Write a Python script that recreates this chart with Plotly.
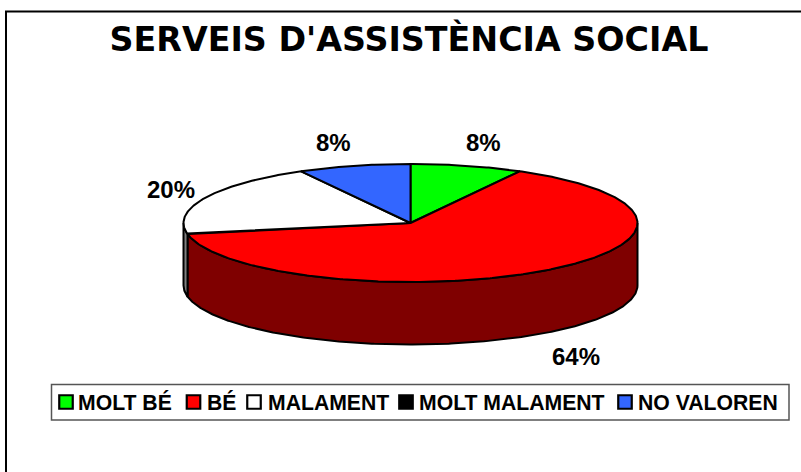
import math
import plotly.graph_objects as go

categories = ["MOLT BÉ", "BÉ", "MALAMENT", "MOLT MALAMENT", "NO VALOREN"]
values = [8, 64, 20, 0, 8]
top_colors = ["#00FF00", "#FF0000", "#FFFFFF", "#000000", "#3366FF"]
side_colors = ["#008000", "#7F0000", "#808080", "#000000", "#1A3380"]
title_text = "SERVEIS D'ASSISTÈNCIA SOCIAL"

CX, CY, RX, RY, DEPTH = 410.5, 223, 227, 59, 62.5
W, H = 801, 472
LINE = 2


def pt(angle, drop=0):
    """angle clockwise from 12 o'clock, radians; y is measured downward"""
    return CX + RX * math.sin(angle), CY - RY * math.cos(angle) + drop


def arc(a0, a1, drop=0):
    n = max(2, int(abs(a1 - a0) / 0.01))
    return [pt(a0 + (a1 - a0) * i / n, drop) for i in range(n + 1)]


fig = go.Figure()
total = sum(values)
edges = [0]
for v in values:
    edges.append(edges[-1] + v / total * 2 * math.pi)

# side walls: the visible front half runs from 90 deg to 270 deg
for i in range(len(values)):
    a0, a1 = max(edges[i], math.pi / 2), min(edges[i + 1], 3 * math.pi / 2)
    if a1 <= a0:
        continue
    poly = arc(a0, a1) + arc(a1, a0, DEPTH)
    xs, ys = zip(*poly)
    fig.add_trace(go.Scatter(x=list(xs) + [xs[0]], y=list(ys) + [ys[0]], mode="lines", fill="toself",
                             fillcolor=side_colors[i], line=dict(color="black", width=LINE),
                             showlegend=False, hoverinfo="skip"))

# top faces
for i in range(len(values)):
    if values[i] == 0:
        continue
    poly = [(CX, CY)] + arc(edges[i], edges[i + 1]) + [(CX, CY)]
    xs, ys = zip(*poly)
    fig.add_trace(go.Scatter(x=xs, y=ys, mode="lines", fill="toself", name=categories[i],
                             fillcolor=top_colors[i], line=dict(color="black", width=LINE),
                             showlegend=False, hoverinfo="skip"))

# data labels
label_pos = [(483, 142), (576, 356), (171, 189), None, (333, 142)]
for v, p in zip(values, label_pos):
    if p:
        fig.add_annotation(x=p[0], y=p[1], text=f"<b>{v}%</b>", showarrow=False,
                           font=dict(family="Liberation Sans", size=24, color="black"))

# legend, laid out by hand because the native one cannot be this tight
legend_y = 402
swatch_x = [66, 193.5, 254, 406, 625]
text_x = [76.5, 205.5, 266.5, 418, 637]
fig.add_trace(go.Scatter(x=swatch_x, y=[legend_y] * 5, mode="markers", showlegend=False, hoverinfo="skip",
                         marker=dict(symbol="square", size=13.5, color=top_colors,
                                     line=dict(color="black", width=2.2))))
for c, x in zip(categories, text_x):
    fig.add_annotation(x=x, y=legend_y, text=f"<b>{c}</b>", showarrow=False, xanchor="left",
                       xshift=-1, font=dict(family="Liberation Sans", size=21.2, color="black"))

fig.update_layout(
    width=W, height=H, margin=dict(l=0, r=0, t=0, b=0), autosize=False,
    paper_bgcolor="white", plot_bgcolor="white", showlegend=False,
    xaxis=dict(range=[0, W], visible=False, fixedrange=True),
    yaxis=dict(range=[H, 0], visible=False, fixedrange=True),
    title=dict(text=f"<b>{title_text}</b>", x=409 / W, xanchor="center", y=1 - 39 / H, yanchor="middle",
               font=dict(family="DejaVu Sans", size=33.3, color="black")),
    shapes=[
        dict(type="rect", x0=6, y0=11.5, x1=810, y1=480, line=dict(color="black", width=2), layer="below"),
        dict(type="rect", x0=51.5, y0=384.5, x1=789, y1=420, line=dict(color="#555555", width=1.5), layer="below"),
    ],
)
fig.write_html("out.html", config={"displayModeBar": False},
               post_script="document.body.style.margin='0';document.body.style.overflow='hidden';")
